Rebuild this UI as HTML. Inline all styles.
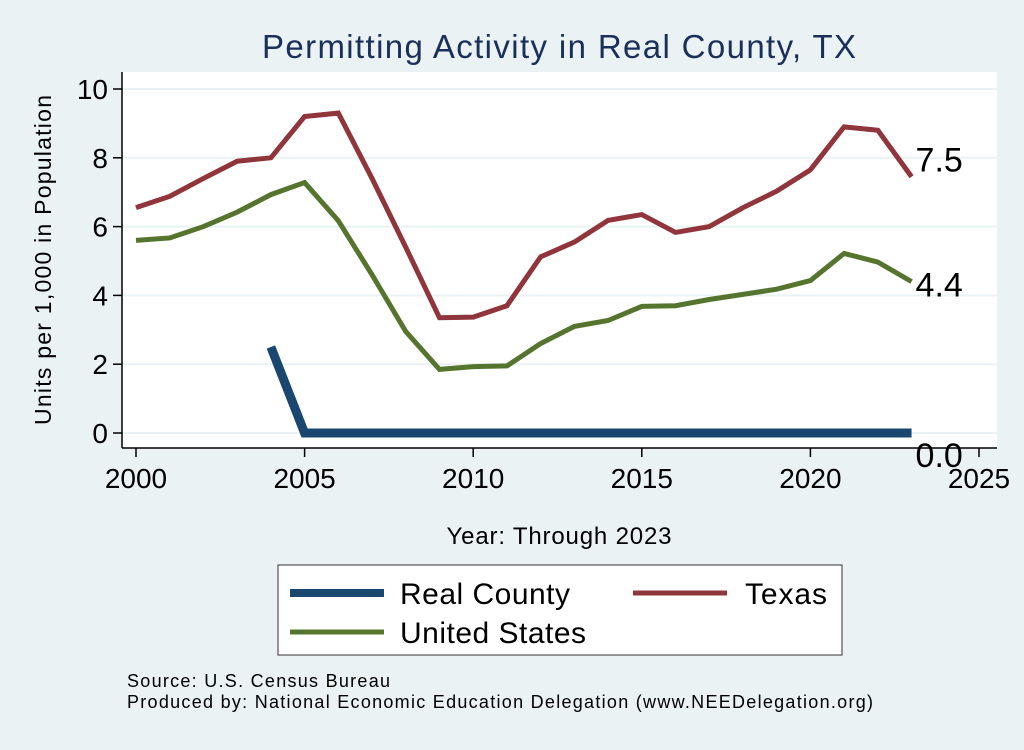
<!DOCTYPE html>
<html><head><meta charset="utf-8"><style>
body{margin:0;width:1024px;height:745px;background:#eaf2f3;font-family:"Liberation Sans",sans-serif;overflow:hidden}
</style></head><body>
<svg width="1024" height="745" font-family="Liberation Sans, sans-serif">
<rect x="0" y="0" width="1024" height="745" fill="#eaf2f3"/>
<text x="559" y="58" font-size="33" fill="#1a2f5a" text-anchor="middle" textLength="594">Permitting Activity in Real County, TX</text>
<rect x="122" y="72" width="875" height="376" fill="#fff"/>
<g id="grid"></g>
<g id="axes"></g>
<g id="series"></g>
<text transform="translate(51,260) rotate(-90)" font-size="23" text-anchor="middle" textLength="330">Units per 1,000 in Population</text>
<text x="559" y="544" font-size="24" text-anchor="middle" textLength="225">Year: Through 2023</text>
<rect x="278" y="565" width="564" height="90" fill="#fff" stroke="#333" stroke-width="1"/>
<g><line x1="290" y1="593" x2="384" y2="593" stroke="#1a476f" stroke-width="8"/><text x="400" y="604" font-size="30" textLength="170">Real County</text></g>
<g><line x1="633" y1="593" x2="727" y2="593" stroke="#90353b" stroke-width="5"/><text x="745" y="604" font-size="30" textLength="82">Texas</text></g>
<g><line x1="290" y1="632" x2="384" y2="632" stroke="#55752f" stroke-width="5"/><text x="400" y="643" font-size="30" textLength="186">United States</text></g>
<text x="127" y="687" font-size="18" textLength="263">Source: U.S. Census Bureau</text>
<text x="127" y="708" font-size="18" textLength="746">Produced by: National Economic Education Delegation (www.NEEDelegation.org)</text>
</svg>
<script>
const years=[2000,2001,2002,2003,2004,2005,2006,2007,2008,2009,2010,2011,2012,2013,2014,2015,2016,2017,2018,2019,2020,2021,2022,2023];
const texas=[6.55,6.88,7.4,7.9,8.0,9.2,9.3,7.4,5.4,3.35,3.37,3.7,5.12,5.55,6.18,6.35,5.83,6.0,6.55,7.03,7.65,8.9,8.8,7.45];
const us=[5.6,5.67,6.0,6.42,6.93,7.28,6.17,4.6,2.95,1.85,1.93,1.95,2.6,3.1,3.27,3.68,3.7,3.88,4.03,4.18,4.43,5.22,4.97,4.4];
const real=[null,null,null,null,2.5,0,0,0,0,0,0,0,0,0,0,0,0,0,0,0,0,0,0,0];
const xTicks=[2000,2005,2010,2015,2020,2025];
const yTicks=[0,2,4,6,8,10];
const NS="http://www.w3.org/2000/svg";
const X=v=>136+(v-2000)*(979-136)/25;
const Y=v=>433-v*34.4;
function mk(t,a,p){const e=document.createElementNS(NS,t);for(const k in a)e.setAttribute(k,a[k]);document.getElementById(p).appendChild(e);return e;}
yTicks.forEach(t=>{
 const g=mk('line',{x1:122,x2:997,y1:Y(t),y2:Y(t),stroke:'#eaf2f3','stroke-width':2},'grid');
 
 
 const k=mk('line',{x1:113,x2:122,y1:Y(t),y2:Y(t),stroke:'#000','stroke-width':1.5},'axes');
 
 
 const l=mk('text',{x:108,y:Y(t)+10,'font-size':28,'text-anchor':'end'},'axes');l.textContent=t;
 
 
});
xTicks.forEach(t=>{
 const k=mk('line',{x1:X(t),x2:X(t),y1:448,y2:457,stroke:'#000','stroke-width':1.5},'axes');
 
 
 const l=mk('text',{x:X(t),y:488,'font-size':28,'text-anchor':'middle'},'axes');l.textContent=t;
 
 
});
let a=mk('line',{x1:122,x2:122,y1:72,y2:448,stroke:'#000','stroke-width':1.5},'axes');


a=mk('line',{x1:122,x2:997,y1:448,y2:448,stroke:'#000','stroke-width':1.5},'axes');


function line(vals,color,w,name,dy){
 const pts=[];vals.forEach((v,i)=>{if(v!==null)pts.push(X(years[i])+','+Y(v));});
 const p=mk('polyline',{points:pts.join(' '),fill:'none',stroke:color,'stroke-width':w,'stroke-linejoin':'miter'},'series');
 
 
 const last=vals[vals.length-1];
 const l=mk('text',{x:X(2023)+4,y:Y(last)+dy,'font-size':34},'series');l.textContent=last.toFixed(1);
 
 
}
line(texas,'#90353b',5,'texas-line',-5);
line(us,'#55752f',5,'united-states-line',15);
line(real,'#1a476f',9,'real-county-line',34);
</script>
</body></html>
